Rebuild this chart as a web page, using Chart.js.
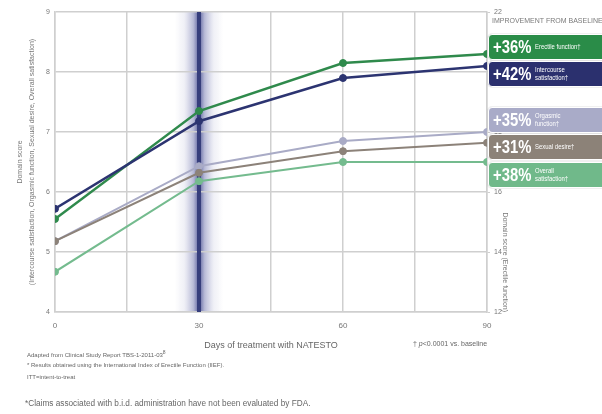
<!DOCTYPE html>
<html>
<head>
<meta charset="utf-8">
<script src="https://cdn.jsdelivr.net/npm/chart.js@4/dist/chart.umd.min.js"></script>
<style>
  html, body { margin: 0; padding: 0; background: #fff; }
  body { width: 602px; height: 414px; position: relative; overflow: hidden;
         font-family: 'Liberation Sans', 'Roboto', sans-serif; }
  #wrap { position: absolute; left: 0; top: 0; width: 602px; height: 414px; }
  .note { position: absolute; color: #666; white-space: nowrap; transform-origin: left top; }
  #legend-head { position: absolute; left: 492px; top: 17px; font-size: 7px; color: #7a7a7a; white-space: nowrap; }
  .box { position: absolute; left: 488px; width: 118px; height: 26px; border: 1px solid #fff;
         border-radius: 4px; color: #fff; box-sizing: border-box; display: flex; align-items: center;
         box-shadow: 0 0 0 1px rgba(0,0,0,0.06); overflow: hidden; }
  .box .pct { display: inline-block; font-size: 19px; font-weight: bold; margin-left: 4px; width: 38px;
              transform: scaleX(0.78); transform-origin: left center; white-space: nowrap; }
  .box .lbl { display: inline-block; font-size: 7px; line-height: 8px; margin-left: 4px; white-space: nowrap;
              transform: scaleX(0.85); transform-origin: left center; }
</style>
</head>
<body>
<div id="wrap"><canvas id="chart" width="602" height="414"></canvas></div>
<div id="legend-head">IMPROVEMENT FROM BASELINE</div>
<div id="legend"></div>
<div class="note" style="left:413px; top:340px; font-size:7px;">† <i>p</i>&lt;0.0001 vs. baseline</div>
<div class="note" style="left:27px; top:349px; font-size:6px;">Adapted from Clinical Study Report TBS-1-2011-03<sup style="font-size:5px">8</sup></div>
<div class="note" style="left:27px; top:362px; font-size:6px;">* Results obtained using the International Index of Erectile Function (IIEF).</div>
<div class="note" style="left:27px; top:374px; font-size:6px;">ITT=intent-to-treat</div>
<div class="note" style="left:25px; top:398px; font-size:8.5px; transform: scaleX(0.97);">*Claims associated with b.i.d. administration have not been evaluated by FDA.</div>
<script>
// Days of treatment and domain scores
const DAYS        = [0, 30, 60, 90];
const ERECTILE    = [15.1, 18.7, 20.3, 20.6];   // right axis (12–22)
const INTERCOURSE = [5.72, 7.18, 7.9, 8.1];     // left axis (4–9)
const ORGASMIC    = [5.18, 6.43, 6.85, 7.0];
const DESIRE      = [5.18, 6.32, 6.68, 6.82];
const OVERALL     = [4.67, 6.18, 6.5, 6.5];

const LEFT_TICKS  = [4, 5, 6, 7, 8, 9];
const RIGHT_TICKS = [12, 14, 16, 18, 20, 22];

const IMPROVEMENT = ['+36%', '+42%', '+35%', '+31%', '+38%'];
const DOMAINS     = [['Erectile function†'], ['Intercourse', 'satisfaction†'], ['Orgasmic', 'function†'],
                     ['Sexual desire†'], ['Overall', 'satisfaction†']];

const COLORS  = { erectile: '#2f8a4c', intercourse: '#2c3471', orgasmic: '#a9abc6', desire: '#8c8279', overall: '#74bb8e' };
const BOX_COLORS = ['#2a8c48', '#2b306e', '#a9abc8', '#8c8278', '#70b98a'];
const BOX_TOPS   = [34, 61, 107, 134, 162];

const FONT = "'Liberation Sans', 'Roboto', sans-serif";
const TICK = '#777';
const GRID = '#cfcfcf';

// ── Legend boxes ──────────────────────────────────────────────────────────
const legend = document.getElementById('legend');
IMPROVEMENT.forEach((p, i) => {
  const b = document.createElement('div');
  b.className = 'box';
  b.style.top = BOX_TOPS[i] + 'px';
  b.style.background = BOX_COLORS[i];
  b.innerHTML = `<span class="pct">${p}</span><span class="lbl">${DOMAINS[i].join('<br>')}</span>`;
  legend.appendChild(b);
});

// ── Treatment band at day 30: glow under the grid, core line over it ──────
const bandPlugin = {
  id: 'band',
  beforeDraw(chart) {
    const { ctx, chartArea, scales } = chart;
    const x = scales.x.getPixelForValue(30);
    const w = 24;
    const h = chartArea.bottom - chartArea.top;
    const g = ctx.createLinearGradient(x - w, 0, x + w, 0);
    g.addColorStop(0,    'rgba(120,124,180,0)');
    g.addColorStop(0.2,  'rgba(120,124,180,0.12)');
    g.addColorStop(0.38, 'rgba(100,106,168,0.45)');
    g.addColorStop(0.46, 'rgba(80,86,152,0.75)');
    g.addColorStop(0.54, 'rgba(80,86,152,0.75)');
    g.addColorStop(0.62, 'rgba(100,106,168,0.45)');
    g.addColorStop(0.8,  'rgba(120,124,180,0.12)');
    g.addColorStop(1,    'rgba(120,124,180,0)');
    ctx.save();
    ctx.fillStyle = g;
    ctx.fillRect(x - w, chartArea.top, w * 2, h);
    ctx.restore();
  },
  beforeDatasetsDraw(chart) {
    const { ctx, chartArea, scales } = chart;
    const x = scales.x.getPixelForValue(30);
    ctx.save();
    ctx.fillStyle = '#363e7c';
    ctx.fillRect(x - 2, chartArea.top, 4, chartArea.bottom - chartArea.top);
    ctx.restore();
  }
};

function series(label, data, color, axis, width) {
  return {
    label, data: DAYS.map((d, i) => ({ x: d, y: data[i] })),
    yAxisID: axis, borderColor: color, borderWidth: width,
    pointBackgroundColor: color, pointBorderColor: color,
    pointRadius: 3.5, pointBorderWidth: 1, tension: 0
  };
}

const datasets = [
  series('Overall satisfaction', OVERALL, COLORS.overall, 'y', 2),
  series('Sexual desire', DESIRE, COLORS.desire, 'y', 2),
  series('Orgasmic function', ORGASMIC, COLORS.orgasmic, 'y', 2),
  series('Intercourse satisfaction', INTERCOURSE, COLORS.intercourse, 'y', 2.5),
  series('Erectile function', ERECTILE, COLORS.erectile, 'y2', 2.5)
];

new Chart(document.getElementById('chart'), {
  type: 'line',
  data: { datasets },
  plugins: [bandPlugin],
  options: {
    responsive: false,
    animation: false,
    layout: { padding: { top: 12, left: 0, right: 0, bottom: 0 } },
    plugins: { legend: { display: false }, tooltip: { enabled: false } },
    scales: {
      x: {
        type: 'linear', min: 0, max: 90,
        afterFit: s => { s.height = 102; },
        ticks: {
          stepSize: 15, color: TICK, padding: 9, maxRotation: 0,
          font: { family: FONT, size: 8 },
          callback: v => (v % 30 === 0 ? v : '')
        },
        grid: { color: GRID, lineWidth: 1.5, drawTicks: false },
        border: { color: GRID, width: 1.5 },
        title: {
          display: true, text: 'Days of treatment with NATESTO', color: '#666',
          font: { family: FONT, size: 9 }, padding: { bottom: 63 }
        }
      },
      y: {
        position: 'left', min: 4, max: 9,
        afterFit: s => { s.width = 55; },
        afterBuildTicks: s => { s.ticks = LEFT_TICKS.map(v => ({ value: v })); },
        ticks: { color: TICK, padding: 5, font: { family: FONT, size: 7 } },
        grid: { color: GRID, lineWidth: 1.5, drawTicks: false },
        border: { color: GRID, width: 1.5 },
        title: {
          display: true, color: '#777',
          text: ['Domain score', '(Intercourse satisfaction, Orgasmic function, Sexual desire, Overall satisfaction)'],
          font: { family: FONT, size: 7, lineHeight: '12px' }, padding: { top: 14 }
        }
      },
      y2: {
        position: 'right', min: 12, max: 22,
        afterFit: s => { s.width = 115; },
        afterBuildTicks: s => { s.ticks = RIGHT_TICKS.map(v => ({ value: v })); },
        ticks: { color: TICK, padding: 4, font: { family: FONT, size: 7 } },
        grid: { drawOnChartArea: false, color: GRID, tickLength: 3 },
        border: { color: GRID, width: 1.5 },
        title: {
          display: true, align: 'start', color: '#777',
          text: 'Domain score (Erectile function)',
          font: { family: FONT, size: 7 }, padding: { top: 93 }
        }
      }
    }
  }
});
</script>
</body>
</html>
